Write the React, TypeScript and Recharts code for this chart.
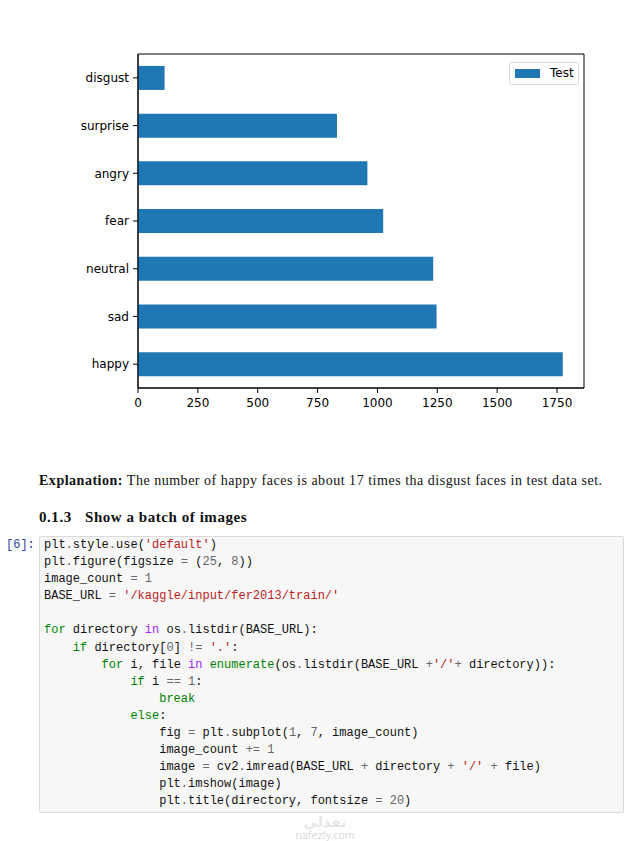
import React from 'react';
import { BarChart, Bar, XAxis, YAxis, Legend, ReferenceArea } from 'recharts';

const categories = ['disgust', 'surprise', 'angry', 'fear', 'neutral', 'sad', 'happy'];
const testCounts = [111, 831, 958, 1024, 1233, 1247, 1774];
const xTicks = [0, 250, 500, 750, 1000, 1250, 1500, 1750];
const X_MAX = 1774 * 1.05;
const seriesName = 'Test';

const data = categories.map((c, i) => ({ emotion: c, Test: testCounts[i] }));

const codeLines = [
  "plt.style.use('default')",
  'plt.figure(figsize = (25, 8))',
  'image_count = 1',
  "BASE_URL = '/kaggle/input/fer2013/train/'",
  '',
  'for directory in os.listdir(BASE_URL):',
  "    if directory[0] != '.':",
  "        for i, file in enumerate(os.listdir(BASE_URL +'/'+ directory)):",
  '            if i == 1:',
  '                break',
  '            else:',
  '                fig = plt.subplot(1, 7, image_count)',
  '                image_count += 1',
  "                image = cv2.imread(BASE_URL + directory + '/' + file)",
  '                plt.imshow(image)',
  '                plt.title(directory, fontsize = 20)',
];

const BLUE = '#1f77b4';

function tokenize(line: string) {
  const re = /('[^']*')|(\b\d+\b)|(\b(?:for|if|else|break)\b)|(\bin\b)|(\benumerate\b)|([=!+.<>]+)|(\s+)|([A-Za-z_][A-Za-z0-9_]*)|(.)/g;
  const out: { t: string; c: string }[] = [];
  let m: RegExpExecArray | null;
  while ((m = re.exec(line)) !== null) {
    if (m[1]) out.push({ t: m[1], c: '#ba2121' });
    else if (m[2]) out.push({ t: m[2], c: '#666666' });
    else if (m[3]) out.push({ t: m[3], c: '#008000' });
    else if (m[4]) out.push({ t: m[4], c: '#aa22ff' });
    else if (m[5]) out.push({ t: m[5], c: '#008000' });
    else if (m[6]) out.push({ t: m[6], c: '#666666' });
    else out.push({ t: m[0], c: '#111' });
  }
  return out;
}

const renderLegend = () => (
  <div
    style={{
      width: 70,
      height: 23,
      boxSizing: 'border-box',
      border: '1px solid #d8d8d8',
      borderRadius: 3,
      background: '#fff',
      position: 'relative',
      fontFamily: 'DejaVu Sans',
      fontSize: 12,
    }}
  >
    <div style={{ position: 'absolute', left: 5, top: 6, width: 25, height: 9, background: BLUE }} />
    <div style={{ position: 'absolute', left: 40, top: 3, color: '#000', lineHeight: '15px' }}>{seriesName}</div>
  </div>
);

export default function App() {
  return (
    <div style={{ position: 'absolute', left: 0, top: 0, width: 638, height: 841, background: '#fff', overflow: 'hidden' }}>
      <div style={{ position: 'absolute', left: 0, top: 0 }}>
        <BarChart
          width={638}
          height={420}
          layout="vertical"
          data={data}
          margin={{ top: 54, right: 54, bottom: 0, left: 0 }}
          barCategoryGap="25%"
        >
          <XAxis
            type="number"
            dataKey="Test"
            domain={[0, X_MAX]}
            ticks={xTicks}
            allowDataOverflow
            height={32}
            tickSize={5}
            tickMargin={5}
            axisLine={{ stroke: '#000' }}
            tickLine={{ stroke: '#000' }}
            tick={{ fill: '#000', fontSize: 12, fontFamily: 'DejaVu Sans' }}
          />
          <YAxis
            type="category"
            dataKey="emotion"
            width={138}
            tickSize={5}
            tickMargin={4}
            axisLine={{ stroke: '#000' }}
            tickLine={{ stroke: '#000' }}
            tick={{ fill: '#000', fontSize: 12, fontFamily: 'DejaVu Sans' }}
          />
          <Bar dataKey="Test" name={seriesName} fill={BLUE} isAnimationActive={false} />
          <ReferenceArea x1={0} x2={X_MAX} fill="none" stroke="#000" strokeWidth={1} ifOverflow="visible" />
          <Legend
            layout="vertical"
            align="center"
            verticalAlign="middle"
            content={renderLegend}
            wrapperStyle={{ top: 62, left: 509, width: 70, height: 23 }}
          />
        </BarChart>
      </div>

      <div
        style={{
          position: 'absolute',
          left: 39,
          top: 473,
          fontFamily: 'Liberation Serif',
          fontSize: 14,
          letterSpacing: 0.52,
          color: '#111',
          whiteSpace: 'nowrap',
        }}
      >
        <b>Explanation:</b> The number of happy faces is about 17 times tha disgust faces in test data set.
      </div>

      <div
        style={{
          position: 'absolute',
          left: 39,
          top: 509,
          fontFamily: 'Liberation Serif',
          fontWeight: 'bold',
          fontSize: 15,
          letterSpacing: 0.55,
          color: '#111',
          whiteSpace: 'nowrap',
        }}
      >
        <span>0.1.3</span>
        <span style={{ position: 'absolute', left: 46 }}>Show a batch of images</span>
      </div>

      <div
        style={{
          position: 'absolute',
          left: 6,
          top: 537,
          fontFamily: 'Liberation Mono',
          fontSize: 12,
          color: '#303f9f',
          lineHeight: '17px',
        }}
      >
        [6]:
      </div>

      <div
        style={{
          position: 'absolute',
          left: 39,
          top: 536,
          width: 585,
          height: 277,
          boxSizing: 'border-box',
          background: '#f7f7f7',
          border: '1px solid #dadada',
          borderRadius: 2,
        }}
      />
      <div
        style={{
          position: 'absolute',
          left: 44,
          top: 537,
          fontFamily: 'Liberation Mono',
          fontSize: 12,
          lineHeight: '17.1px',
          whiteSpace: 'pre',
        }}
      >
        {codeLines.map((ln, i) => (
          <div key={i} style={{ height: 17.1 }}>
            {tokenize(ln).map((tk, j) => (
              <span key={j} style={{ color: tk.c }}>
                {tk.t}
              </span>
            ))}
          </div>
        ))}
      </div>

      <div
        style={{
          position: 'absolute',
          left: 280,
          top: 815,
          width: 90,
          textAlign: 'center',
          fontFamily: 'DejaVu Sans',
          fontSize: 14,
          fontWeight: 'bold',
          lineHeight: '14px',
          color: 'rgba(200,200,200,0.45)',
        }}
      >
        نفذلي
      </div>
      <div
        style={{
          position: 'absolute',
          left: 280,
          top: 830,
          width: 90,
          textAlign: 'center',
          fontFamily: 'DejaVu Sans',
          fontSize: 10,
          lineHeight: '11px',
          color: 'rgba(190,190,190,0.6)',
        }}
      >
        nafezly.com
      </div>
    </div>
  );
}
